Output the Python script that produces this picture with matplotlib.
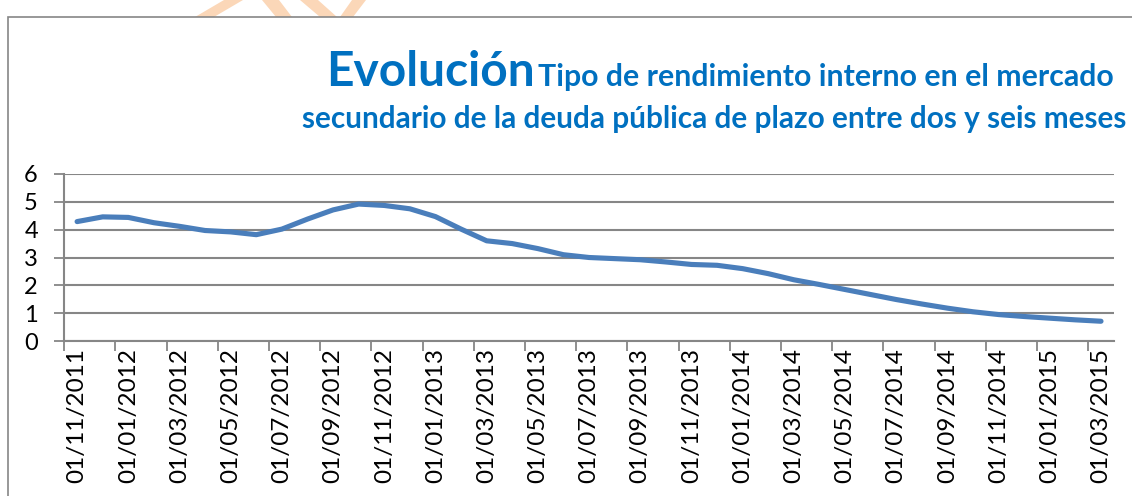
import pandas as pd
import matplotlib.pyplot as plt
from matplotlib.patches import Polygon, Rectangle

W, H = 1132, 496

# monthly yield, 2-6 month public debt (secondary market), Nov 2011 - Mar 2015
months = pd.date_range('2011-11-01', periods=41, freq='MS')
rates = [4.29, 4.46, 4.44, 4.25, 4.12, 3.97, 3.92, 3.82, 4.02, 4.38,
         4.71, 4.92, 4.87, 4.75, 4.47, 4.02, 3.60, 3.50, 3.32, 3.10,
         3.00, 2.96, 2.92, 2.84, 2.75, 2.72, 2.60, 2.42, 2.20, 2.03,
         1.85, 1.67, 1.49, 1.33, 1.18, 1.05, 0.95, 0.88, 0.82, 0.76, 0.71]
y_ticks = [0, 1, 2, 3, 4, 5, 6]

TITLE_BIG = 'Evolución'
TITLE_L1 = 'Tipo de rendimiento interno en el mercado'
TITLE_L2 = 'secundario de la deuda pública de plazo entre dos y seis meses'

BLUE = '#0070C0'
LINE = '#4A7EBB'
GREY = '#868686'
FONT = ['Lato', 'DejaVu Sans']

plt.rcParams['font.family'] = FONT

fig = plt.figure(figsize=(W / 100, H / 100), dpi=100)


def fx(px):
    return px / W


def fy(py):
    return 1 - py / H


# faint watermark pieces peeking above the chart box
for pts in [[(195, 17), (214, 17), (243, 0), (224, 0)],
            [(262, 0), (279, 0), (292, 17), (276, 17)],
            [(300, 0), (318, 0), (337, 17), (320, 17)],
            [(340, 17), (353, 17), (366, 0), (352, 0)]]:
    fig.patches.append(Polygon([(fx(a), fy(b)) for a, b in pts], closed=True,
                               transform=fig.transFigure, color='#FBD7B8', lw=0))

# chart area border (cut off at right and bottom)
fig.patches.append(Rectangle((fx(8), fy(H + 10)), fx(W + 10), fy(17) - fy(H + 10),
                             transform=fig.transFigure, fill=False,
                             edgecolor=GREY, lw=1.2))

left, right, top, bottom = 64.3, 1113.8, 174, 341
ax = fig.add_axes([fx(left), fy(bottom), fx(right - left), (bottom - top) / H])

x = [i + 0.5 for i in range(len(rates))]
ax.plot(x, rates, color=LINE, lw=3.7, solid_joinstyle='round',
        solid_capstyle='round', zorder=3)

ax.set_xlim(0, len(rates))
ax.set_ylim(0, 6)
ax.set_yticks(y_ticks)
ax.grid(axis='y', color=GREY, lw=1.5)
ax.set_axisbelow(True)

ax.set_xticks(range(0, len(rates), 2))
ax.set_xticklabels([])
ax.set_xticks([i + 0.5 for i in range(0, len(rates), 2)], minor=True)
ax.set_xticklabels([months[i].strftime('%d/%m/%Y') for i in range(0, len(rates), 2)],
                   minor=True, rotation=90, fontsize=17.5)
ax.tick_params(axis='x', which='major', length=7, width=1.3, color=GREY)
ax.tick_params(axis='x', which='minor', length=0, pad=5)
ax.tick_params(axis='y', length=7, width=1.3, color=GREY, labelsize=17, pad=12)

for s in ['top', 'right']:
    ax.spines[s].set_visible(False)
for s in ['left', 'bottom']:
    ax.spines[s].set_color(GREY)
    ax.spines[s].set_linewidth(1.5)

# titles, sized to fit the widths in the original
renderer = fig.canvas.get_renderer()


def fit(t, width_px):
    w = t.get_window_extent(renderer).width
    t.set_fontsize(t.get_fontsize() * width_px / w)


t0 = fig.text(fx(326), fy(86), TITLE_BIG, color=BLUE, fontsize=30,
              fontweight='bold', ha='left', va='baseline')
fit(t0, 209)
t1 = fig.text(fx(538), fy(86), TITLE_L1, color=BLUE, fontsize=18,
              fontweight='bold', ha='left', va='baseline')
fit(t1, 575)
t2 = fig.text(fx(302), fy(128), TITLE_L2, color=BLUE, fontsize=18,
              fontweight='bold', ha='left', va='baseline')
fit(t2, 826)

fig.savefig('out.png', dpi=100)
